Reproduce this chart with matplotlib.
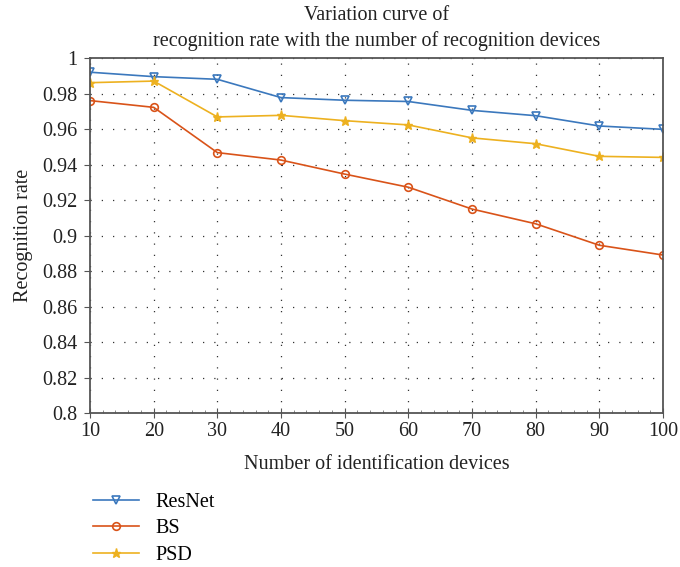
import numpy as np
import matplotlib
matplotlib.use("Agg")
import matplotlib.pyplot as plt
from matplotlib.ticker import MultipleLocator

plt.rcParams['font.family'] = ['Liberation Serif', 'DejaVu Serif']

devices = [10, 20, 30, 40, 50, 60, 70, 80, 90, 100]
resnet = [0.992, 0.9895, 0.988, 0.9777, 0.9762, 0.9755, 0.9705, 0.9675, 0.9617, 0.9598]
bs = [0.976, 0.9722, 0.9467, 0.9425, 0.9346, 0.9272, 0.9149, 0.9066, 0.8945, 0.889]
psd = [0.9861, 0.987, 0.9668, 0.9677, 0.9647, 0.9623, 0.955, 0.9517, 0.9446, 0.944]

y_ticks = [0.8, 0.82, 0.84, 0.86, 0.88, 0.9, 0.92, 0.94, 0.96, 0.98, 1.0]
y_labels = ['0.8', '0.82', '0.84', '0.86', '0.88', '0.9', '0.92', '0.94', '0.96', '0.98', '1']

fig = plt.figure(figsize=(6.8, 5.67), dpi=100)
ax = fig.add_axes([0.1324, 0.2716, 0.8426, 0.6261])

ax.plot(devices, resnet, color='#3b78bd', lw=1.2, marker='v', ms=5.5,
        mfc='none', mew=1.2, label='ResNet')
ax.plot(devices, bs, color='#d95319', lw=1.2, marker='o', ms=5.5,
        mfc='none', mew=1.2, label='BS')
ax.plot(devices, psd, color='#edb120', lw=1.2, marker='*', ms=6.5,
        label='PSD')

ax.set_xlim(10, 100)
ax.set_ylim(0.8, 1.0)
ax.set_xticks(devices)
ax.xaxis.set_minor_locator(MultipleLocator(2))
ax.set_yticks(y_ticks)
ax.set_yticklabels(y_labels)
ax.grid(True, color='#333333', linestyle=(0, (1, 8)), linewidth=0.9)
for s in ax.spines.values():
    s.set_color('#555555')
    s.set_linewidth(1.3)
ax.tick_params(axis='y', direction='out', length=4, color='#555555', labelsize=14.5,
               labelcolor='#222222', pad=5)
ax.tick_params(axis='x', direction='inout', length=7, color='#555555', labelsize=14.5,
               labelcolor='#222222', pad=3)
ax.tick_params(axis='x', which='minor', direction='in', length=2, color='#777777')

ax.set_title('Variation curve of\nrecognition rate with the number of recognition devices',
             fontsize=14.5, color='#222222', pad=9, linespacing=1.35)
ax.set_xlabel('Number of identification devices', fontsize=14.5, color='#222222', labelpad=10)
ax.set_ylabel('Recognition rate', fontsize=14.5, color='#222222', labelpad=7)

fig.legend(loc='upper left', bbox_to_anchor=(0.125, 0.145), frameon=False,
           fontsize=14.5, handlelength=2.3, labelspacing=0.36, borderaxespad=0)

fig.savefig('out.png', dpi=100)
